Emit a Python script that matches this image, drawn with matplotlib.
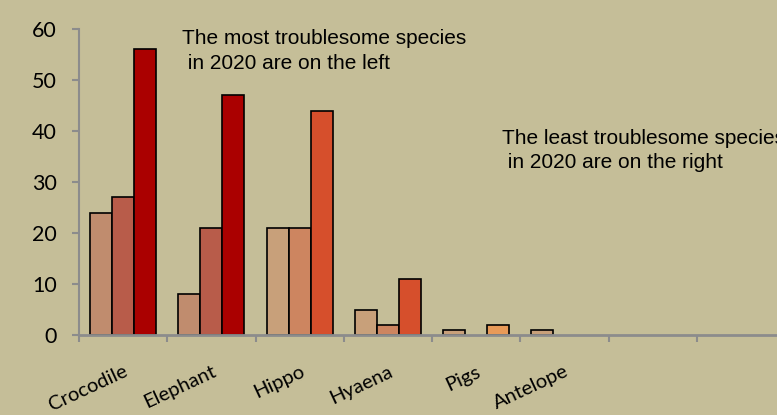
import numpy as np
import matplotlib
matplotlib.use('Agg')
import matplotlib.pyplot as plt

# data
species = ['Crocodile', 'Elephant', 'Hippo', 'Hyaena', 'Pigs', 'Antelope', '', '']
series_a = [24, 8, 21, 5, 1, 1, 0, 0]
series_b = [27, 21, 21, 2, 0, 0, 0, 0]
series_c = [56, 47, 44, 11, 2, 0, 0, 0]

# fill colours per species for each of the three bars
colors_a = ['#C08C6E', '#C08C6E', '#C8A07A', '#C8A07A', '#C8A07A', '#C8A07A', '#C8A07A', '#C8A07A']
colors_b = ['#B85C4A', '#B85C4A', '#CD8560', '#CD8560', '#CD8560', '#CD8560', '#CD8560', '#CD8560']
colors_c = ['#AA0000', '#AA0000', '#D64F2C', '#D64F2C', '#E89A58', '#E89A58', '#E89A58', '#E89A58']

BG = '#C5BE98'
GRAY = '#8C8C8C'

fig = plt.figure(figsize=(7.77, 4.15), dpi=100, facecolor=BG)
ax = fig.add_axes([79 / 777, 1 - 335 / 415, 706 / 777, 306 / 415])
ax.set_facecolor(BG)

x = np.arange(len(species)) + 0.5
w = 0.25
for vals, cols, off in [(series_a, colors_a, -w), (series_b, colors_b, 0), (series_c, colors_c, w)]:
    for xi, v, c in zip(x, vals, cols):
        if v > 0:
            ax.bar(xi + off, v, width=w, color=c, edgecolor='black', linewidth=1.2, zorder=2)

ax.set_xlim(0, len(species))
ax.set_ylim(0, 60)
ax.set_yticks(range(0, 61, 10))

for s in ['top', 'right']:
    ax.spines[s].set_visible(False)
ax.spines['left'].set_color(GRAY)
ax.spines['left'].set_linewidth(1.5)
ax.spines['bottom'].set_color(GRAY)
ax.spines['bottom'].set_linewidth(2)
ax.spines['bottom'].set_zorder(3)

ax.tick_params(axis='y', length=5, width=1.5, color=GRAY, pad=11, labelsize=15.5)
for lab in ax.get_yticklabels():
    lab.set_fontfamily('Lato')

ax.set_xticks(x)
ax.set_xticklabels(species, rotation=25, ha='right', rotation_mode='anchor',
                   fontsize=14.5, fontfamily='Lato')
ax.set_xticks(np.arange(0, len(species) + 1), minor=True)
ax.tick_params(axis='x', which='major', length=0, pad=20)
ax.tick_params(axis='x', which='minor', length=5, width=1.5, color=GRAY)

fig.text(182 / 777, 0.93, 'The most troublesome species\n in 2020 are on the left',
         fontsize=15, fontfamily='Liberation Sans', va='top', ha='left', linespacing=1.38)
fig.text(502 / 777, 0.69, 'The least troublesome species\n in 2020 are on the right',
         fontsize=15, fontfamily='Liberation Sans', va='top', ha='left', linespacing=1.38)

fig.savefig('out.png', dpi=100, facecolor=BG)
